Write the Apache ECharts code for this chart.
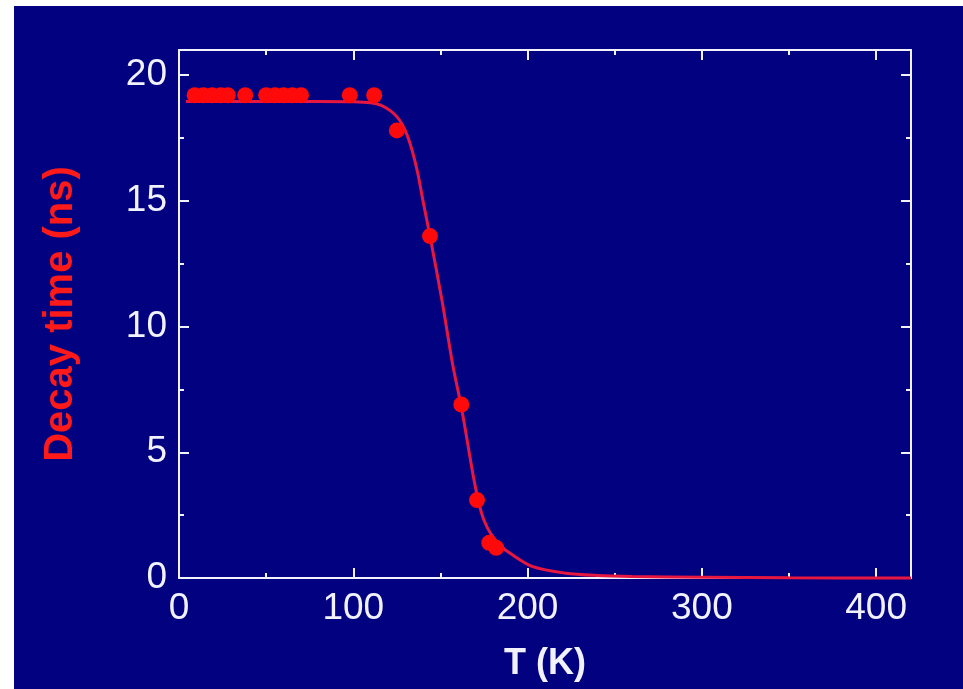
<!DOCTYPE html>
<html>
<head>
<meta charset="utf-8">
<script src="https://cdn.jsdelivr.net/npm/echarts@6/dist/echarts.min.js"></script>
<style>
  html, body { margin: 0; padding: 0; background: #ffffff; width: 963px; height: 689px; overflow: hidden; }
  #chart { position: absolute; left: 14px; top: 6px; width: 949px; height: 683px; }
</style>
</head>
<body>
<div id="chart"></div>
<script>
// Measured decay times (ns) versus temperature (K)
const tempK   = [9, 14, 19, 24, 28, 38, 50, 55, 60, 65, 70, 98, 112, 125, 144, 162, 171, 178, 182];
const decayNs = [19.2, 19.2, 19.2, 19.2, 19.2, 19.2, 19.2, 19.2, 19.2, 19.2, 19.2, 19.2, 19.2, 17.8, 13.6, 6.9, 3.1, 1.4, 1.2];

// Fitted curve, sampled along T
const fitT  = [4, 40, 80, 100, 110, 116, 121, 125, 128, 131, 134, 137, 140, 144, 151, 157, 162, 166, 169, 172, 175, 179, 185, 190, 203, 222, 240, 260, 300, 350, 420];
const fitNs = [18.95, 18.95, 18.95, 18.94, 18.9, 18.8, 18.6, 18.35, 18.05, 17.6, 16.95, 16.1, 15.0, 13.6, 11.0, 8.5, 6.8, 5.2, 4.0, 3.0, 2.3, 1.75, 1.25, 0.98, 0.45, 0.19, 0.1, 0.06, 0.03, 0.01, 0];

// Axis ranges and tick steps
const xRange = [0, 420];
const yRange = [0, 21];
const xTickStep = 100;
const yTickStep = 5;

const chart = echarts.init(document.getElementById('chart'));

const axisColor = '#f2f2ff';
const fontFamily = '"Liberation Sans", Arial, sans-serif';

function frameAxis(extra) {
  return Object.assign({
    axisLine: { show: true, onZero: false, lineStyle: { color: axisColor, width: 2 } },
    axisTick: { show: true, inside: true, length: 10, lineStyle: { color: axisColor, width: 2 } },
    minorTick: { show: true, splitNumber: 2, length: 5, lineStyle: { color: axisColor, width: 2 } },
    splitLine: { show: false },
    minorSplitLine: { show: false }
  }, extra);
}

const option = {
  backgroundColor: '#020280',
  animation: false,
  grid: { left: 165, top: 44, right: 52, bottom: 111, containLabel: false },
  xAxis: [
    frameAxis({
      type: 'value', position: 'bottom', min: xRange[0], max: xRange[1], interval: xTickStep,
      name: 'T (K)', nameLocation: 'middle', nameGap: 68,
      nameTextStyle: { color: axisColor, fontSize: 36, fontWeight: 'bold', fontFamily: fontFamily, verticalAlign: 'top' },
      axisLabel: { color: axisColor, fontSize: 37, fontFamily: fontFamily, margin: 12, showMaxLabel: false }
    }),
    frameAxis({
      type: 'value', position: 'top', min: xRange[0], max: xRange[1], interval: xTickStep,
      axisLabel: { show: false }
    })
  ],
  yAxis: [
    frameAxis({
      type: 'value', position: 'left', min: yRange[0], max: yRange[1], interval: yTickStep,
      name: 'Decay time (ns)', nameLocation: 'middle', nameGap: 98, nameRotate: 90,
      nameTextStyle: { color: '#ff1a1a', fontSize: 40, fontWeight: 'bold', fontFamily: fontFamily },
      axisLabel: { color: axisColor, fontSize: 37, fontFamily: fontFamily, margin: 12, showMaxLabel: false }
    }),
    frameAxis({
      type: 'value', position: 'right', min: yRange[0], max: yRange[1], interval: yTickStep,
      axisLabel: { show: false }
    })
  ],
  series: [
    {
      name: 'fit',
      type: 'line',
      data: fitT.map((t, i) => [t, fitNs[i]]),
      showSymbol: false,
      smooth: 0.3,
      clip: false,
      lineStyle: { color: '#e8173f', width: 3 },
      z: 3
    },
    {
      name: 'data',
      type: 'scatter',
      data: tempK.map((t, i) => [t, decayNs[i]]),
      symbol: 'circle',
      symbolSize: 16,
      itemStyle: { color: '#ff0a0a', opacity: 1 },
      z: 4
    }
  ]
};

chart.setOption(option);
</script>
</body>
</html>
